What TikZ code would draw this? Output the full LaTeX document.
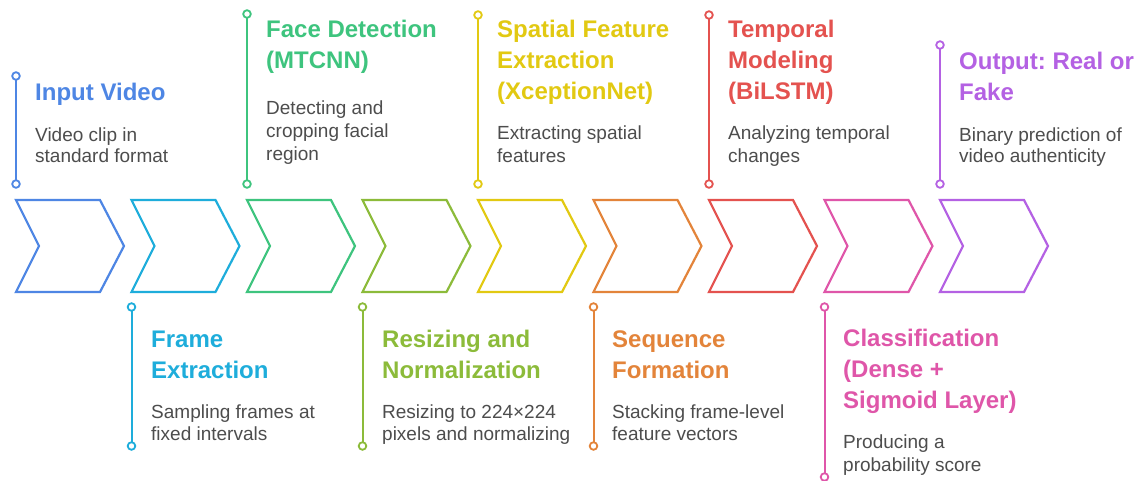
\documentclass[tikz,border=0pt]{standalone}
\usepackage{fontspec}
\setmainfont{Liberation Sans}
\frenchspacing
\definecolor{cA}{HTML}{4E86E4}
\definecolor{cB}{HTML}{1EADDB}
\definecolor{cC}{HTML}{3EC47E}
\definecolor{cD}{HTML}{8CBB3A}
\definecolor{cE}{HTML}{E2C912}
\definecolor{cF}{HTML}{E3843A}
\definecolor{cG}{HTML}{E4524F}
\definecolor{cH}{HTML}{DF56A9}
\definecolor{cI}{HTML}{B461E3}
\definecolor{bodygray}{HTML}{4D4D4D}
\tikzset{
  chev/.style={line width=2.2pt, line join=miter},
  stem/.style={line width=2pt},
  dotc/.style={line width=1.8pt},
  ttl/.style={anchor=base west, inner sep=0pt, font=\fontsize{24}{24}\selectfont\bfseries},
  bdy/.style={anchor=base west, inner sep=0pt, font=\fontsize{19}{19}\selectfont, text=bodygray},
}
\newcommand\chevron[2]{\draw[chev,#2] (#1,200) -- ++(84,0) -- ++(24,46) -- ++(-24,46) -- ++(-84,0) -- ++(23,-46) -- cycle;}
\newcommand\stemline[5]{%
  \coordinate (#1t) at (#2,#3);
  \coordinate (#1b) at (#2,#4);
  \draw[stem,#5] (#1t) -- (#1b);
  \draw[dotc,draw=#5,fill=white] (#1t) circle[radius=3.8pt];
  \draw[dotc,draw=#5,fill=white] (#1b) circle[radius=3.8pt];}
\begin{document}
\begin{tikzpicture}[x=1pt,y=-1pt]
\useasboundingbox[fill=white] (0,0) rectangle (1135,480);
% chevrons
\chevron{16}{cA}
\chevron{131.5}{cB}
\chevron{247}{cC}
\chevron{362.5}{cD}
\chevron{478}{cE}
\chevron{593.5}{cF}
\chevron{709}{cG}
\chevron{824.5}{cH}
\chevron{940}{cI}
% stems
\stemline{s1}{16}{76}{184}{cA}
\stemline{s3}{247}{14}{184}{cC}
\stemline{s5}{478}{15}{184}{cE}
\stemline{s7}{709}{15}{184}{cG}
\stemline{s9}{940}{45}{184}{cI}
\stemline{s2}{131.5}{307}{446}{cB}
\stemline{s4}{362.5}{307}{446}{cD}
\stemline{s6}{593.5}{307}{446}{cF}
\stemline{s8}{824.5}{307}{477}{cH}
% texts 1
\node[ttl,text=cA] (t1a) at (35,100) {Input Video};
\node[bdy] (b1a) at (35,141) {Video clip in};
\node[bdy] (b1b) at (35,162) {standard format};
% texts 3
\node[ttl,text=cC] (t3a) at (266,37) {Face Detection};
\node[ttl,text=cC] (t3b) at (266,68) {(MTCNN)};
\node[bdy] (b3a) at (266,114) {Detecting and};
\node[bdy] (b3b) at (266,137) {cropping facial};
\node[bdy] (b3c) at (266,160) {region};
% texts 5
\node[ttl,text=cE] (t5a) at (497,37) {Spatial Feature};
\node[ttl,text=cE] (t5b) at (497,68) {Extraction};
\node[ttl,text=cE] (t5c) at (497,99) {(XceptionNet)};
\node[bdy] (b5a) at (497,139) {Extracting spatial};
\node[bdy] (b5b) at (497,162) {features};
% texts 7
\node[ttl,text=cG] (t7a) at (728,37) {Temporal};
\node[ttl,text=cG] (t7b) at (728,68) {Modeling};
\node[ttl,text=cG] (t7c) at (728,99) {(BiLSTM)};
\node[bdy] (b7a) at (728,139) {Analyzing temporal};
\node[bdy] (b7b) at (728,162) {changes};
% texts 9
\node[ttl,text=cI] (t9a) at (959,69) {Output: Real or};
\node[ttl,text=cI] (t9b) at (959,100) {Fake};
\node[bdy] (b9a) at (959,141) {Binary prediction of};
\node[bdy] (b9b) at (959,162) {video authenticity};
% texts 2
\node[ttl,text=cB] (t2a) at (151,347) {Frame};
\node[ttl,text=cB] (t2b) at (151,378) {Extraction};
\node[bdy] (b2a) at (151,418) {Sampling frames at};
\node[bdy] (b2b) at (151,440) {fixed intervals};
% texts 4
\node[ttl,text=cD] (t4a) at (382,347) {Resizing and};
\node[ttl,text=cD] (t4b) at (382,378) {Normalization};
\node[bdy] (b4a) at (382,418) {Resizing to 224×224};
\node[bdy] (b4b) at (382,440) {pixels and normalizing};
% texts 6
\node[ttl,text=cF] (t6a) at (612,347) {Sequence};
\node[ttl,text=cF] (t6b) at (612,378) {Formation};
\node[bdy] (b6a) at (612,418) {Stacking frame-level};
\node[bdy] (b6b) at (612,440) {feature vectors};
% texts 8
\node[ttl,text=cH] (t8a) at (843,346) {Classification};
\node[ttl,text=cH] (t8b) at (843,377) {(Dense +};
\node[ttl,text=cH] (t8c) at (843,408) {Sigmoid Layer)};
\node[bdy] (b8a) at (843,448) {Producing a};
\node[bdy] (b8b) at (843,471) {probability score};
\end{tikzpicture}
\end{document}
